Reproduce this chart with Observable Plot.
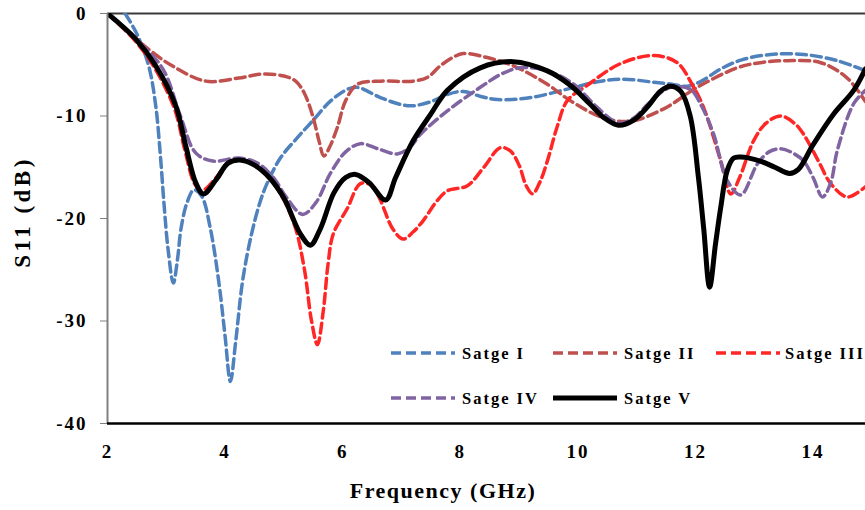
<!DOCTYPE html>
<html><head><meta charset="utf-8">
<script src="https://cdn.jsdelivr.net/npm/d3@7"></script>
<script src="https://cdn.jsdelivr.net/npm/@observablehq/plot@0.6"></script>
<style>
body{margin:0;background:#fff;}
#wrap{position:relative;width:865px;height:510px;overflow:hidden;font-family:"Liberation Serif","Times New Roman",serif;font-weight:bold;color:#000;}
#wrap svg text{letter-spacing:2px;}
.ttl{position:absolute;white-space:nowrap;font-size:22px;}
#legend{position:absolute;left:0;top:0;}
#legend text{font-family:"Liberation Serif",serif;font-weight:bold;font-size:16.5px;letter-spacing:0.3px;}
</style></head><body><div id="wrap"></div>
<script>
// Satge I
const freqI = [2.3,2.5,2.7,2.82,2.9,2.96,3.03,3.12,3.19,3.25,3.35,3.47,3.6,3.75,3.9,4.0,4.09,4.18,4.3,4.45,4.6,4.72,4.94,5.2,5.5,5.8,6.08,6.25,6.64,7.0,7.2,7.5,7.78,8.05,8.35,8.63,9.2,9.87,10.3,10.72,11.29,11.6,11.86,12.1,12.43,12.8,13.28,13.84,14.41,14.89];
const s11I  = [0,-2.0,-5.1,-9.0,-13.9,-18.5,-23.0,-26.3,-24.0,-21.0,-18.5,-17.2,-17.8,-21.0,-26.5,-31.5,-35.9,-32.0,-26.0,-21.5,-18.3,-16.5,-14.1,-12.3,-10.4,-8.5,-7.4,-7.2,-8.2,-8.9,-9.0,-8.6,-7.9,-7.6,-8.1,-8.4,-8.2,-7.3,-6.7,-6.4,-6.7,-6.9,-7.1,-6.6,-5.4,-4.5,-4.0,-4.0,-4.6,-5.6];
// Satge II
const freqII = [2.0,2.3,2.7,3.1,3.67,4.23,4.64,5.0,5.2,5.35,5.5,5.6,5.68,5.78,5.91,6.05,6.25,6.64,7.2,7.45,7.66,7.9,8.05,8.46,8.9,9.48,9.87,10.44,10.9,11.46,12.03,12.71,13.1,13.56,14.13,14.58,14.89];
const s11II  = [0,-1.5,-3.5,-5.1,-6.6,-6.3,-5.9,-6.1,-6.6,-7.8,-10.2,-12.5,-13.9,-13.0,-11.1,-8.5,-6.9,-6.6,-6.6,-6.2,-5.1,-4.2,-3.9,-4.3,-5.1,-6.9,-8.5,-10.2,-10.5,-9.3,-7.2,-5.3,-4.8,-4.6,-4.8,-6.3,-8.6];
// Satge III
const freqIII = [2.0,2.46,2.8,3.14,3.31,3.48,3.6,3.85,4.05,4.25,4.5,4.75,5.0,5.2,5.35,5.47,5.57,5.67,5.75,5.84,6.08,6.3,6.5,6.64,6.85,7.03,7.2,7.37,7.6,7.78,8.12,8.4,8.68,8.85,9.0,9.12,9.23,9.35,9.48,9.65,9.82,10.16,10.72,11.29,11.69,11.95,12.14,12.43,12.6,12.75,12.99,13.2,13.45,13.7,13.84,14.1,14.3,14.58,14.89];
const s11III  = [0,-2.6,-5.3,-9.3,-13.2,-16.6,-17.3,-16.0,-14.6,-14.3,-14.8,-16.0,-18.2,-21.0,-25.0,-30.0,-32.3,-29.0,-24.5,-21.5,-19.0,-16.6,-16.8,-18.2,-21.0,-22.0,-21.3,-20.2,-18.3,-17.3,-16.8,-15.0,-13.1,-13.4,-14.8,-16.8,-17.6,-16.5,-14.4,-11.0,-8.5,-7.0,-4.9,-4.1,-4.8,-7.0,-9.2,-14.4,-17.6,-16.0,-12.4,-10.7,-10.0,-10.8,-11.8,-14.5,-16.6,-17.9,-16.9];
// Satge IV
const freqIV = [2.0,2.48,2.94,3.24,3.5,3.79,4.23,4.55,4.82,5.05,5.32,5.55,5.79,6.05,6.3,6.6,6.93,7.15,7.32,7.78,8.34,8.7,9.02,9.48,9.93,10.3,10.69,10.95,11.2,11.57,11.91,12.1,12.31,12.54,12.77,13.05,13.25,13.45,13.65,13.84,14.0,14.16,14.3,14.41,14.69,14.89];
const s11IV  = [0,-2.5,-5.4,-10.0,-13.6,-14.4,-14.1,-14.6,-16.0,-18.0,-19.6,-18.4,-15.6,-13.5,-12.7,-13.2,-13.7,-13.0,-11.8,-9.5,-7.2,-5.9,-5.3,-5.6,-6.9,-9.0,-10.7,-10.2,-8.8,-7.2,-7.4,-9.0,-11.8,-16.3,-17.7,-14.7,-13.5,-13.2,-13.6,-14.4,-16.0,-17.9,-16.5,-13.4,-8.8,-7.5];
// Satge V
const freqV = [2.0,2.48,2.82,3.16,3.33,3.5,3.63,3.85,4.05,4.25,4.5,4.75,5.0,5.28,5.45,5.62,5.85,6.05,6.22,6.45,6.73,6.9,7.2,7.5,7.78,8.34,8.9,9.48,9.87,10.2,10.45,10.69,10.95,11.2,11.4,11.57,11.75,11.91,12.05,12.14,12.24,12.34,12.43,12.54,12.65,12.77,13.1,13.35,13.6,13.75,14.0,14.35,14.69,14.89];
const s11V  = [0,-2.5,-5.1,-9.0,-12.9,-16.5,-17.6,-16.2,-14.6,-14.3,-14.8,-16.0,-18.0,-21.5,-22.6,-21.0,-17.5,-16.0,-15.7,-16.5,-18.2,-16.0,-12.4,-9.8,-7.5,-5.3,-4.7,-5.6,-7.0,-8.8,-10.2,-10.9,-10.4,-9.0,-7.6,-7.1,-7.6,-10.0,-16.0,-21.0,-26.7,-22.5,-18.9,-15.3,-14.1,-14.0,-14.4,-15.0,-15.6,-15.2,-12.8,-9.8,-7.5,-5.4];

const seriesNames = ["Satge I","Satge II","Satge III","Satge IV","Satge V"];
const xTicks = [2,4,6,8,10,12,14];
const yTicks = [0,-10,-20,-30,-40];
const xTitle = "Frequency (GHz)";
const yTitle = "S11 (dB)";

const series = [
  {name:seriesNames[0], freq:freqI, s11:s11I, color:"#4F81BD", dash:"10,5", width:3.5},
  {name:seriesNames[1], freq:freqII, s11:s11II, color:"#C0504D", dash:"10,5", width:3.5},
  {name:seriesNames[2], freq:freqIII, s11:s11III, color:"#FF2626", dash:"10,5", width:3.5},
  {name:seriesNames[3], freq:freqIV, s11:s11IV, color:"#8064A2", dash:"10,5", width:3.5},
  {name:seriesNames[4], freq:freqV, s11:s11V, color:"#000000", dash:null, width:5}
];

const W = 865, H = 510, mL = 107, mR = 0, mT = 13, mB = 87;
const xMax = 2 + (W - mL) / 58.8;

const marks = [
  Plot.ruleY([0], {stroke:"#3a3a3a", strokeWidth:2}),
  ...series.map(s => Plot.line(s.freq.map((f,i)=>({f, v:s.s11[i], name:s.name})), {
    x:"f", y:"v", stroke:s.color, strokeWidth:s.width,
    strokeDasharray: s.dash || undefined, curve:"catmull-rom", clip:true, strokeLinejoin:"round"
  })),
  Plot.ruleX([2], {stroke:"#808080", strokeWidth:2}),
  Plot.ruleY([-40], {stroke:"#000", strokeWidth:2.5}),
  Plot.axisY({ticks:yTicks, tickSize:7, tickPadding:13, tickFormat:d=>String(d), stroke:"#808080", fill:"#000", fontSize:19, label:null}),
  Plot.axisX({ticks:xTicks, tickSize:0, tickPadding:21, tickFormat:d=>String(d), fill:"#000", fontSize:19, label:null})
];

const chart = Plot.plot({
  width:W, height:H, marginLeft:mL, marginRight:mR, marginTop:mT, marginBottom:mB,
  x:{domain:[2, xMax]}, y:{domain:[-40,0]},
  style:{fontFamily:'"Liberation Serif","Times New Roman",serif', fontWeight:"bold", background:"#fff", overflow:"visible"},
  marks
});
const wrap = document.getElementById("wrap");
wrap.appendChild(chart);

// axis titles
const xt = document.createElement("div");
xt.className = "ttl"; xt.textContent = xTitle;
xt.style.left = "443px"; xt.style.top = "478px"; xt.style.transform = "translateX(-50%)"; xt.style.letterSpacing = "1.5px";
wrap.appendChild(xt);
const yt = document.createElement("div");
yt.className = "ttl"; yt.textContent = yTitle;
yt.style.left = "23px"; yt.style.top = "212px"; yt.style.transform = "translate(-50%,-50%) rotate(-90deg)"; yt.style.fontSize = "23px"; yt.style.letterSpacing = "3.5px";
wrap.appendChild(yt);

// legend
const ns = "http://www.w3.org/2000/svg";
const leg = document.createElementNS(ns, "svg");
leg.setAttribute("id","legend"); leg.setAttribute("width", W); leg.setAttribute("height", H);
const pos = [[391,353],[553,353],[716,353],[391,398],[553,398]];
series.forEach((s,i) => {
  const [lx, ly] = pos[i];
  const ln = document.createElementNS(ns, "line");
  ln.setAttribute("x1", lx); ln.setAttribute("x2", lx+64); ln.setAttribute("y1", ly); ln.setAttribute("y2", ly);
  ln.setAttribute("stroke", s.color); ln.setAttribute("stroke-width", s.dash ? 3.5 : 5);
  if (s.dash) ln.setAttribute("stroke-dasharray", s.dash);
  leg.appendChild(ln);
  const tx = document.createElementNS(ns, "text");
  tx.setAttribute("x", lx + (i===2 ? 69 : 71)); tx.setAttribute("y", ly + 6);
  tx.textContent = s.name;
  leg.appendChild(tx);
});
wrap.appendChild(leg);
</script>
</body></html>
